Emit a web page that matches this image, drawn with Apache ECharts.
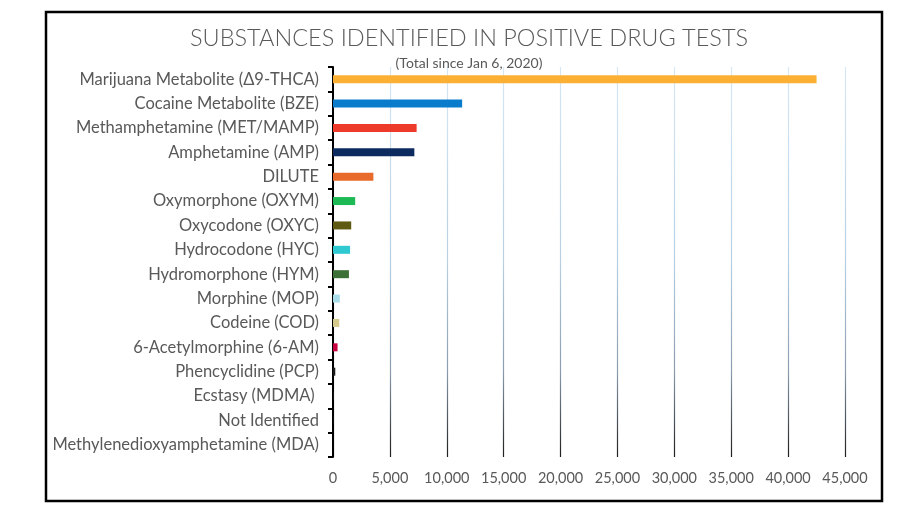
<!DOCTYPE html>
<html>
<head>
<meta charset="utf-8">
<script src="https://cdn.jsdelivr.net/npm/echarts@6/dist/echarts.min.js"></script>
<style>html,body{margin:0;padding:0;background:#fff;}#c{width:903px;height:507px;}</style>
</head>
<body>
<div id="c"></div>
<script>
const categories = [
  "Marijuana Metabolite (\u03949-THCA)",
  "Cocaine Metabolite (BZE)",
  "Methamphetamine (MET/MAMP)",
  "Amphetamine (AMP)",
  "DILUTE",
  "Oxymorphone (OXYM)",
  "Oxycodone (OXYC)",
  "Hydrocodone (HYC)",
  "Hydromorphone (HYM)",
  "Morphine (MOP)",
  "Codeine (COD)",
  "6-Acetylmorphine (6-AM)",
  "Phencyclidine (PCP)",
  "Ecstasy (MDMA) ",
  "Not Identified",
  "Methylenedioxyamphetamine (MDA)"
];
const values = [42500, 11350, 7350, 7150, 3550, 1950, 1600, 1500, 1400, 600, 550, 400, 200, 30, 20, 10];
const barColors = ["#FBB034", "#0A7CCB", "#EE3A2A", "#0D2B5E", "#E86A2D", "#1DB954", "#5E5A12", "#2EC8D0", "#3B7037", "#A9DDEA", "#D4C98A", "#C8003F", "#1a1a1a", "#333333", "#333333", "#333333"];
const xTicks = [0, 5000, 10000, 15000, 20000, 25000, 30000, 35000, 40000, 45000];

const chart = echarts.init(document.getElementById('c'), null, {renderer: 'canvas'});
const font = "Lato, 'Open Sans', sans-serif";
chart.setOption({
  animation: false,
  backgroundColor: '#fff',
  title: [
    {text: 'SUBSTANCES IDENTIFIED IN POSITIVE DRUG TESTS', left: 464, top: 21, textAlign: 'center',
     textStyle: {fontFamily: font, fontSize: 23.5, fontWeight: 300, color: '#595959'}},
    {text: '(Total since Jan 6, 2020)', left: 464, top: 51, textAlign: 'center',
     textStyle: {fontFamily: font, fontSize: 14, fontWeight: 'normal', color: '#595959'}}
  ],
  graphic: [{type: 'rect', shape: {x: 46, y: 12, width: 836, height: 489}, style: {fill: 'none', stroke: '#000', lineWidth: 2.5}, z: 100}],
  grid: {left: 333, right: 58, top: 67, bottom: 50, containLabel: false},
  xAxis: {
    type: 'value', min: xTicks[0], max: xTicks[xTicks.length - 1], interval: 5000,
    axisLine: {show: false}, axisTick: {show: false},
    axisLabel: {margin: 14, fontFamily: font, fontSize: 14.5, color: '#595959',
      formatter: v => v.toLocaleString('en-US')},
    splitLine: {show: true, lineStyle: {width: 1.2, color: {type: 'linear', x: 0, y: 67, x2: 0, y2: 457, global: true,
      colorStops: [{offset: 0, color: '#d6e8f6'}, {offset: 0.5, color: '#b6cfe3'}, {offset: 0.78, color: '#8a9cae'}, {offset: 1, color: '#1e1e1e'}]}}}
  },
  yAxis: {
    type: 'category', data: categories, inverse: true,
    axisLine: {show: true, lineStyle: {color: '#000', width: 2}},
    axisTick: {show: true, length: 5, lineStyle: {color: '#000', width: 2}},
    axisLabel: {margin: 14, fontFamily: font, fontSize: 16.5, color: '#595959'}
  },
  series: [{
    type: 'bar', barWidth: 8,
    data: values.map((v, i) => ({value: v, itemStyle: {color: barColors[i]}})),
    z: 1
  }]
});
</script>
</body>
</html>
